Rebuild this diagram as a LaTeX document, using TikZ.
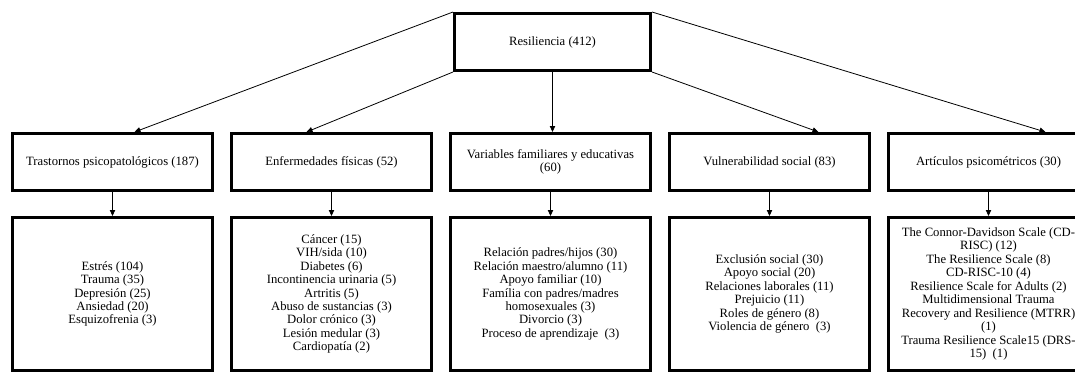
\documentclass[tikz,border=0pt]{standalone}
\usepackage{fontspec}
\setmainfont{Liberation Serif}
\usetikzlibrary{arrows.meta,positioning,calc}

\begin{document}
\begin{tikzpicture}[x=0.75pt, y=-0.75pt,
  catbox/.style={draw, line width=2.25pt, minimum width=150pt, minimum height=42.75pt, align=center, inner sep=2pt, font=\fontsize{9.5}{10.1}\selectfont},
  topbox/.style={catbox, minimum width=147pt},
  listbox/.style={catbox, minimum height=114.75pt},
  arr/.style={-{Triangle[length=4.5pt, width=4pt]}, line width=0.6pt}
]
  \useasboundingbox (0,0) rectangle (1075,375);
  \clip (0,0) rectangle (1075,375);

  \node[topbox] (res) at (552.5,42) {Resiliencia (412)};

  \node[catbox] (trast) at (112.5,162) {Trastornos psicopatológicos (187)};
  \node[catbox, right=12pt of trast] (enf) {Enfermedades físicas (52)};
  \node[catbox, right=12pt of enf] (fam) {Variables familiares y educativas\\(60)};
  \node[catbox, right=12pt of fam] (vuln) {Vulnerabilidad social (83)};
  \node[catbox, right=12pt of vuln] (psico) {Artículos psicométricos (30)};

  \node[listbox, below=18pt of trast] (trastl) {Estrés (104)\\Trauma (35)\\Depresión (25)\\Ansiedad (20)\\Esquizofrenia (3)};
  \node[listbox, below=18pt of enf] (enfl) {Cáncer (15)\\VIH/sida (10)\\Diabetes (6)\\Incontinencia urinaria (5)\\Artritis (5)\\Abuso de sustancias (3)\\Dolor crónico (3)\\Lesión medular (3)\\Cardiopatía (2)};
  \node[listbox, below=18pt of fam] (faml) {Relación padres/hijos (30)\\Relación maestro/alumno (11)\\Apoyo familiar (10)\\Família con padres/madres\\homosexuales (3)\\Divorcio (3)\\Proceso de aprendizaje\ \ (3)};
  \node[listbox, below=18pt of vuln] (vulnl) {Exclusión social (30)\\Apoyo social (20)\\Relaciones laborales (11)\\Prejuicio (11)\\Roles de género (8)\\Violencia de género\ \ (3)};
  \node[listbox, below=18pt of psico] (psicol) {The Connor-Davidson Scale (CD-\\RISC) (12)\\The Resilience Scale (8)\\CD-RISC-10 (4)\\Resilience Scale for Adults (2)\\Multidimensional Trauma\\Recovery and Resilience (MTRR)\\(1)\\Trauma Resilience Scale15 (DRS-\\15)\ \ (1)};

  \draw[arr] (res.north west) -- ($(trast.north)+(22,0)$);
  \draw[arr] (res.south west) -- ($(enf.north)+(-25,0)$);
  \draw[arr] (res.south) -- (res.south |- fam.north);
  \draw[arr] (res.south east) -- ($(vuln.north)+(49,0)$);
  \draw[arr] (res.north east) -- ($(psico.north)+(57,0)$);

  \draw[arr] (trast) -- (trastl);
  \draw[arr] (enf) -- (enfl);
  \draw[arr] (fam) -- (faml);
  \draw[arr] (vuln) -- (vulnl);
  \draw[arr] (psico) -- (psicol);
\end{tikzpicture}
\end{document}
